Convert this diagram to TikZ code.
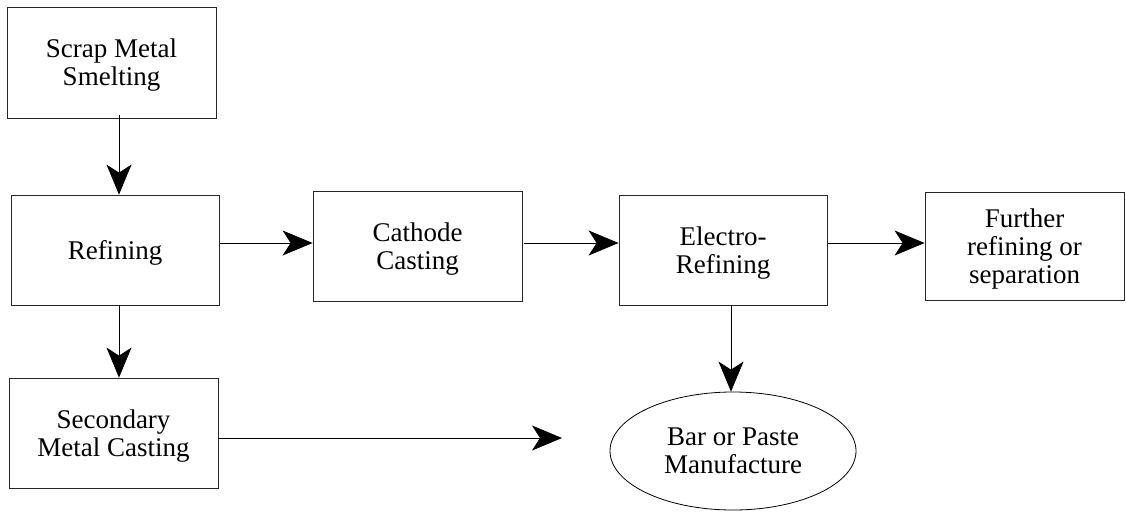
\documentclass[tikz,border=0pt]{standalone}
\usepackage{fontspec}
\setmainfont{Liberation Serif}
\usetikzlibrary{arrows.meta,shapes.geometric}
\begin{document}
\begin{tikzpicture}[x=1pt,y=-1pt,
  box/.style={draw=black!85,line width=0.8pt,align=center,inner sep=0pt,text depth=0pt,
    font=\rmfamily\fontsize{27}{28}\selectfont},
  oval/.style={draw=black,line width=0.8pt,ellipse,align=center,inner sep=0pt,
    font=\rmfamily\fontsize{27}{28}\selectfont},
  arr/.style={draw=black,line width=0.8pt,-{Stealth[length=30pt,width=25pt,inset=8pt]}}]
\useasboundingbox (0,0) rectangle (1126,512);
\node[box,minimum width=209pt,minimum height=111pt] (scrap) at (111.5,62.5) {Scrap Metal\\Smelting};
\node[box,minimum width=208pt,minimum height=110pt] (ref) at (115,250) {Refining};
\node[box,minimum width=209pt,minimum height=110pt] (sec) at (113.5,433) {Secondary\\Metal Casting};
\node[box,minimum width=209pt,minimum height=110pt] (cath) at (417.5,246) {Cathode\\Casting};
\node[box,minimum width=208pt,minimum height=110pt] (elec) at (723,250) {Electro-\\Refining};
\node[box,minimum width=199pt,minimum height=108pt] (furth) at (1024.5,246) {Further\\refining or\\separation};
\node[oval,minimum width=246pt,minimum height=118pt] (bar) at (733,451) {Bar or Paste\\Manufacture};
\coordinate (secend) at (562,438);
\draw[arr] ([yshift=3pt]scrap.south -| 119,0) -- (ref.north -| 119,0);
\draw[arr] (ref.south -| 119,0) -- (sec.north -| 119,0);
\draw[arr] ([xshift=1pt]ref.east |- 0,243) -- (cath.west |- 0,243);
\draw[arr] ([xshift=2pt]cath.east |- 0,243) -- (elec.west |- 0,243);
\draw[arr] ([xshift=1pt]elec.east |- 0,243) -- (furth.west |- 0,243);
\draw[arr] (elec.south -| 731,0) -- (bar.north -| 731,0);
\draw[arr] (sec.east |- secend) -- (secend);
\end{tikzpicture}
\end{document}
